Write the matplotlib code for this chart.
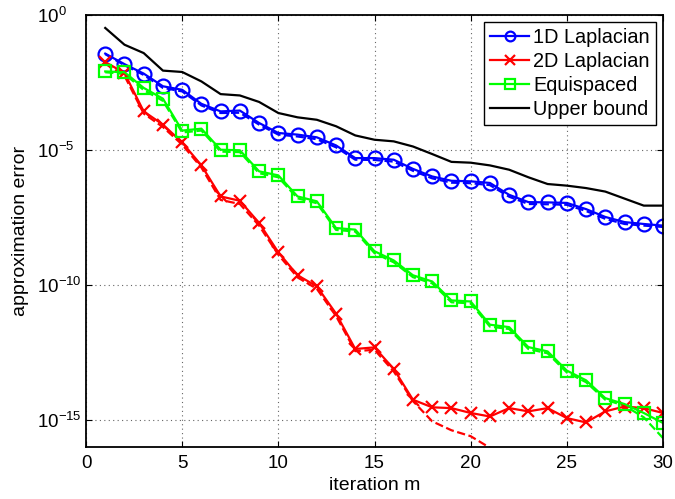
import numpy as np
import matplotlib
matplotlib.use("Agg")
import matplotlib.pyplot as plt
from matplotlib.ticker import NullLocator

m = list(range(1, 31))

upper_log = [-0.48, -1.10, -1.41, -2.06, -2.11, -2.46, -2.93, -2.98, -3.22, -3.63,
             -3.79, -3.88, -4.12, -4.46, -4.62, -4.68, -4.87, -5.15, -5.44, -5.47,
             -5.57, -5.73, -6.01, -6.26, -6.32, -6.41, -6.54, -6.80, -7.06, -7.06]

lap1d_log = [-1.43, -1.82, -2.17, -2.64, -2.77, -3.29, -3.57, -3.54, -4.00, -4.37,
             -4.43, -4.53, -4.83, -5.30, -5.30, -5.36, -5.70, -5.98, -6.14, -6.16,
             -6.22, -6.66, -6.93, -6.94, -6.96, -7.19, -7.48, -7.67, -7.74, -7.80]
lap1d_dash_log = [-1.45, -1.86, -2.22, -2.70, -2.83, -3.35, -3.63, -3.62, -4.06, -4.43,
                  -4.50, -4.60, -4.90, -5.36, -5.37, -5.43, -5.77, -6.05, -6.21, -6.23,
                  -6.30, -6.73, -7.00, -7.01, -7.03, -7.26, -7.55, -7.74, -7.80, -7.85]

lap2d_log = [-1.74, -2.15, -3.57, -4.06, -4.72, -5.57, -6.72, -6.88, -7.70, -8.79,
             -9.64, -10.05, -11.06, -12.37, -12.31, -13.11, -14.25, -14.53, -14.56, -14.74,
             -14.87, -14.56, -14.68, -14.56, -14.93, -15.09, -14.68, -14.50, -14.56, -14.74]
lap2d_dash_log = [-1.80, -2.25, -3.65, -4.15, -4.80, -5.65, -6.85, -7.00, -7.80, -8.88,
                  -9.72, -10.14, -11.15, -12.45, -12.40, -13.20, -14.30, -15.05, -15.38, -15.60,
                  -16.03, -16.50, -17.00, -17.50, -18.0, -18.5, -19.0, -19.5, -20.0, -20.5]

equi_log = [-2.09, -2.12, -2.70, -3.10, -4.28, -4.21, -4.99, -5.01, -5.79, -5.94,
            -6.72, -6.90, -7.89, -7.95, -8.75, -9.09, -9.64, -9.87, -10.57, -10.61,
            -11.47, -11.56, -12.30, -12.46, -13.17, -13.53, -14.19, -14.41, -14.74, -15.11]
equi_dash_log = [-2.12, -2.18, -2.78, -3.18, -4.35, -4.28, -5.06, -5.08, -5.86, -6.01,
                 -6.79, -6.97, -7.96, -8.02, -8.82, -9.16, -9.71, -9.94, -10.64, -10.68,
                 -11.54, -11.63, -12.37, -12.53, -13.24, -13.60, -14.25, -14.47, -14.90, -15.67]

labels = ["1D Laplacian", "2D Laplacian", "Equispaced", "Upper bound"]
ytick_exps = [0, -5, -10, -15]
ytick_labels = [r'$\mathregular{10^{0}}$', r'$\mathregular{10^{-5}}$',
                r'$\mathregular{10^{-10}}$', r'$\mathregular{10^{-15}}$']
xticks = [0, 5, 10, 15, 20, 25, 30]

plt.rcParams['font.family'] = ['Liberation Sans', 'DejaVu Sans']
plt.rcParams['mathtext.fontset'] = 'custom'
plt.rcParams['mathtext.rm'] = 'Liberation Sans'

fig = plt.figure(figsize=(6.75, 4.99), dpi=100)
ax = fig.add_axes([86/675, (499-447)/499, (663-86)/675, (447-15)/499])

def p(v):
    return 10.0 ** np.array(v)

lw = 1.6
blue, red, green = '#0000ff', '#ff0000', '#00ff00'

ax.plot(m, p(lap1d_dash_log), '--', color=blue, lw=lw)
ax.plot(m, p(lap2d_dash_log), '--', color=red, lw=lw)
ax.plot(m, p(equi_dash_log), '--', color=green, lw=lw)

l1, = ax.plot(m, p(lap1d_log), '-', color=blue, lw=lw, marker='o', ms=10,
              mfc='none', mec=blue, mew=1.6)
l2, = ax.plot(m, p(lap2d_log), '-', color=red, lw=lw, marker='x', ms=8, mew=1.6)
l3, = ax.plot(m, p(equi_log), '-', color=green, lw=lw, marker='s', ms=8.5,
              mfc='none', mec=green, mew=1.6)
l4, = ax.plot(m, p(upper_log), '-', color='black', lw=lw)

ax.set_yscale('log')
ax.set_xlim(0, 30)
ax.set_ylim(1e-16, 1e0)
ax.set_yticks([10.0 ** e for e in ytick_exps], labels=ytick_labels, ha='left')
ax.yaxis.set_minor_locator(NullLocator())
ax.set_xticks(xticks)
ax.tick_params(direction='in', top=True, right=True, labelsize=13.5, length=4,
               width=0.8)
ax.tick_params(axis='y', pad=35)
ax.tick_params(axis='x', pad=6)
ax.grid(True, which='major', linestyle=(0, (1, 3)), color='#666666', lw=0.8)
for s in ax.spines.values():
    s.set_linewidth(1.3)

ax.set_xlabel('iteration m', fontsize=14, labelpad=3)
ax.set_ylabel('approximation error', fontsize=14, labelpad=6)

leg = ax.legend([l1, l2, l3, l4], labels, loc='upper right', fontsize=14.3,
                frameon=True, fancybox=False, edgecolor='black', framealpha=1,
                handlelength=2.0, handletextpad=0.2, borderpad=0.3,
                labelspacing=0.25, borderaxespad=0.35)
leg.get_frame().set_linewidth(1.0)
for h in leg.legend_handles:
    h.set_markersize(7)

fig.savefig('out.png', dpi=100)
